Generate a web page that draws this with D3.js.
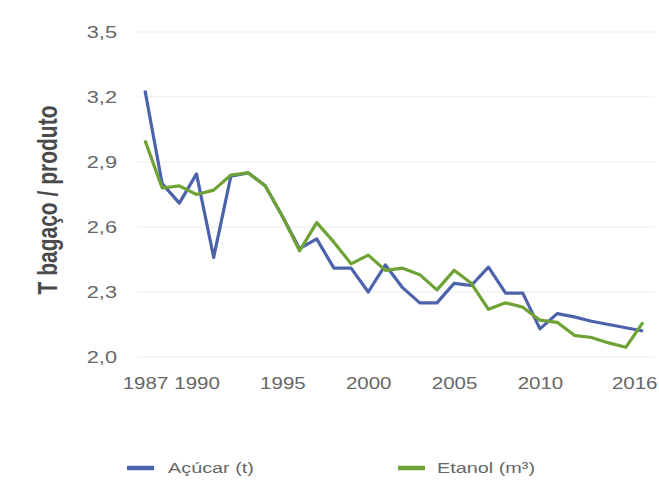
<!DOCTYPE html>
<html><head><meta charset="utf-8">
<script src="https://cdn.jsdelivr.net/npm/d3@7"></script>
<style>body{margin:0;background:#fff}svg{display:block}</style>
</head><body>
<svg id="c" width="659" height="490"></svg>
<script>
const years = d3.range(1987, 2017);
const acucar = [3.23,2.80,2.71,2.845,2.46,2.835,2.85,2.79,2.65,2.50,2.545,2.41,2.41,2.30,2.425,2.32,2.25,2.25,2.34,2.33,2.415,2.295,2.295,2.13,2.20,2.185,2.165,2.15,2.135,2.12];
const etanol = [3.00,2.78,2.79,2.75,2.77,2.84,2.85,2.79,2.65,2.49,2.62,2.53,2.43,2.47,2.40,2.41,2.38,2.31,2.40,2.34,2.22,2.25,2.23,2.17,2.16,2.10,2.09,2.065,2.045,2.16];
const yTicks = [2.0,2.3,2.6,2.9,3.2,3.5];
const xTicks = [1987,1990,1995,2000,2005,2010,2016];
const seriesNames = ["Açúcar (t)","Etanol (m³)"];
const colors = ["#4c62aa","#6ea234"];

const W = 659;
const svg = d3.select("#c");
const x = d3.scaleLinear().domain([1987,2016]).range([145,643]);
const y = d3.scaleLinear().domain([2.0,3.5]).range([357,32]);
const font = "'Liberation Sans', Arial, sans-serif";
const sx = 1.28;
const stretch = `scale(${sx},1)`;

// gridlines
svg.append("g").selectAll("line").data(yTicks).join("line")
  .attr("x1",137).attr("x2",655)
  .attr("y1",d=>y(d)).attr("y2",d=>y(d))
  .attr("stroke","#ececec").attr("stroke-width",1.2);

// y axis labels
const yAxis = svg.append("g").attr("transform","translate(117,0)")
  .call(d3.axisLeft(y).tickValues(yTicks).tickSize(0).tickPadding(0).tickFormat(d=>d3.format(".1f")(d).replace(".",",")));
yAxis.select(".domain").remove();
yAxis.selectAll("text").attr("font-family",font).attr("font-size",17).attr("fill","#666").attr("transform",stretch);

// x axis labels
const xAxis = svg.append("g").attr("transform","translate(0,378)")
  .call(d3.axisBottom(x).tickValues(xTicks).tickSize(0).tickPadding(0).tickFormat(d3.format("d")));
xAxis.select(".domain").remove();
xAxis.selectAll(".tick text").attr("font-family",font).attr("font-size",16).attr("fill","#666")
  .each(function(d){
    const w = this.getComputedTextLength()*sx;
    const right = x(d) + w/2;
    const shift = right > W-2 ? (W-2-right) : 0;
    d3.select(this).attr("transform",`translate(${shift},0) ${stretch}`);
  });

// y title
svg.append("text").attr("transform","translate(57,200) scale(1.3,1) rotate(-90)")
  .attr("text-anchor","middle").attr("font-family",font).attr("font-size",21)
  .attr("font-weight","bold").attr("fill","#4a4a4a").text("T bagaço / produto");

const line = d3.line().x((d,i)=>x(years[i])).y(d=>y(d));
[acucar, etanol].forEach((s,k)=>{
  svg.append("path").datum(s).attr("d",line).attr("fill","none")
    .attr("stroke",colors[k]).attr("stroke-width",3.2).attr("stroke-linejoin","round");
});

// legend
const legX = [127, 398];
const gap = [41, 39];
seriesNames.forEach((n,k)=>{
  svg.append("line").attr("x1",legX[k]).attr("x2",legX[k]+27).attr("y1",468).attr("y2",468)
    .attr("stroke",colors[k]).attr("stroke-width",4.5);
  svg.append("text").attr("transform",`translate(${legX[k]+gap[k]},468) ${stretch}`).attr("dy","0.35em")
    .attr("font-family",font).attr("font-size",15.5).attr("fill","#666").text(n);
});
</script>
</body></html>
